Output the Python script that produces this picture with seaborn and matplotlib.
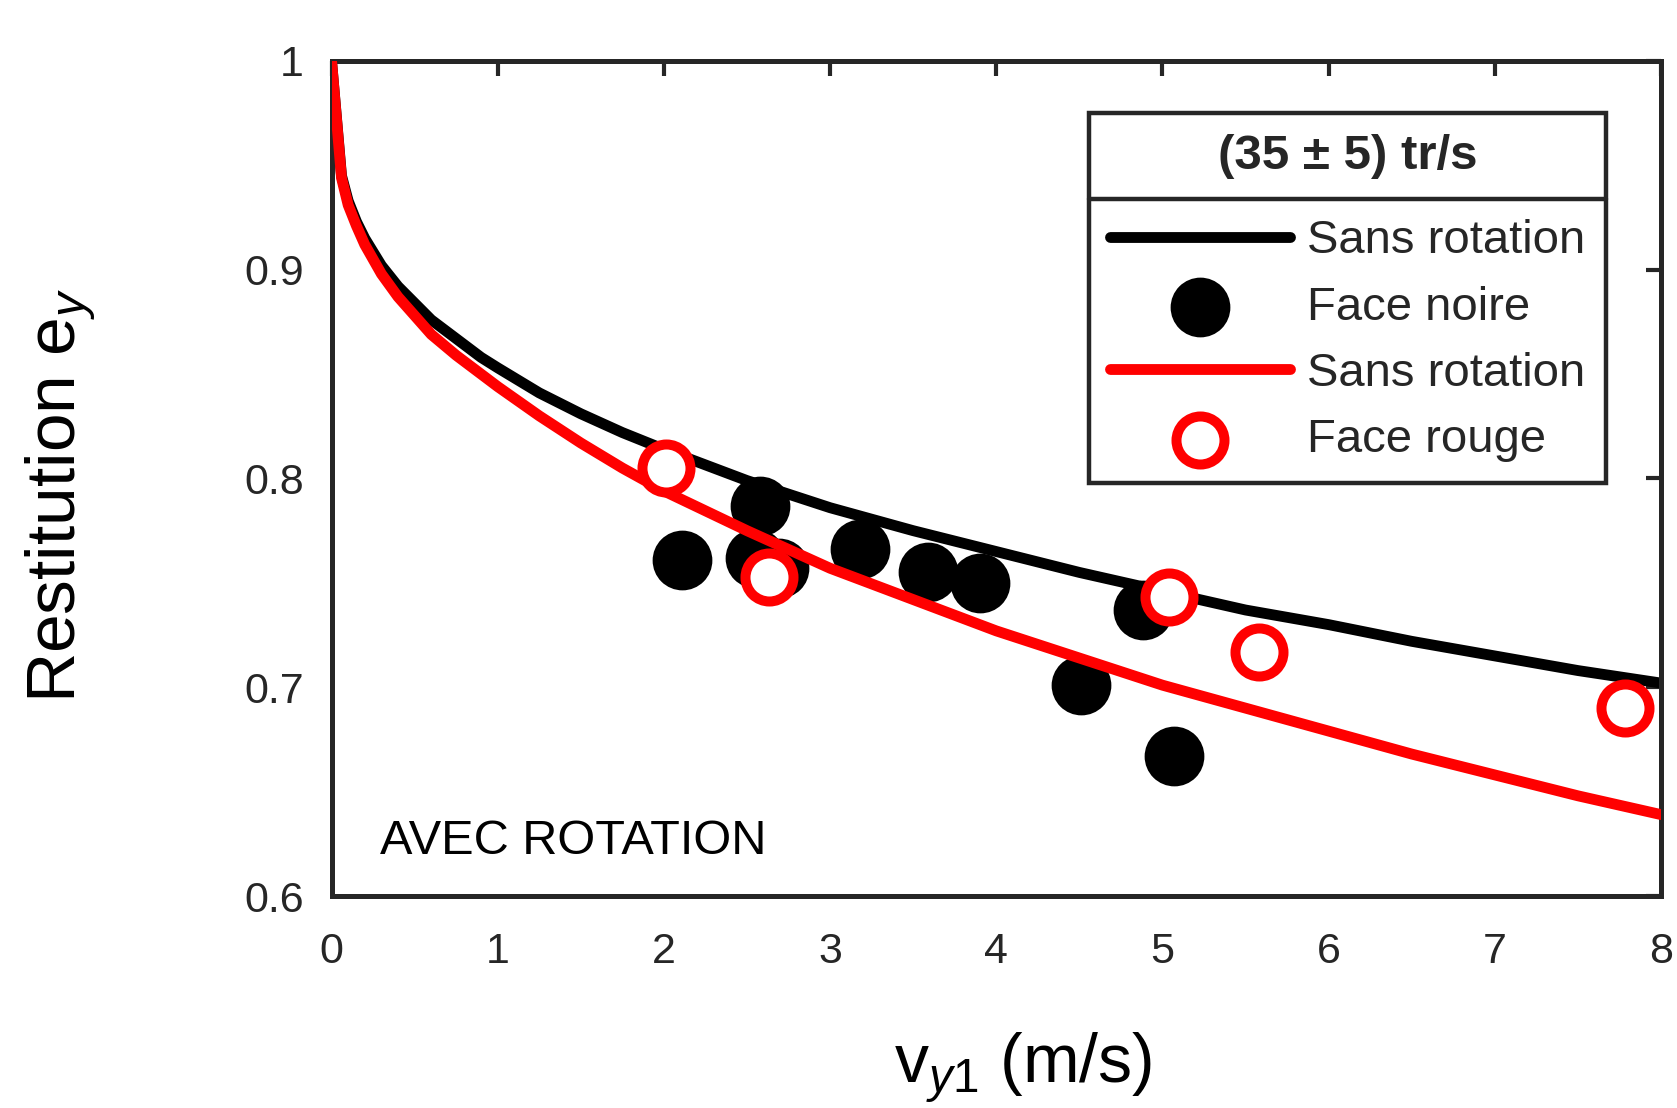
import numpy as np
import pandas as pd
import matplotlib
matplotlib.use('Agg')
import matplotlib.pyplot as plt
from matplotlib.lines import Line2D
import seaborn as sns

# model curves
curve_x = [0, 0.06, 0.1, 0.15, 0.2, 0.3, 0.4, 0.5, 0.6, 0.75, 0.9, 1, 1.25, 1.5, 1.75, 2, 2.5,
           3, 3.5, 4, 4.5, 5, 5.5, 6, 6.5, 7, 7.5, 8]
black_curve = [1.0, 0.945, 0.933, 0.923, 0.915, 0.902, 0.892, 0.884, 0.876, 0.867, 0.858, 0.853,
               0.841, 0.831, 0.822, 0.814, 0.799, 0.786, 0.775, 0.765, 0.755, 0.746, 0.737,
               0.730, 0.722, 0.715, 0.708, 0.702]
red_curve = [1.0, 0.944, 0.931, 0.921, 0.912, 0.898, 0.887, 0.878, 0.869, 0.859, 0.850, 0.844,
             0.830, 0.817, 0.805, 0.794, 0.775, 0.757, 0.742, 0.727, 0.714, 0.701, 0.690,
             0.679, 0.668, 0.658, 0.648, 0.639]

# measured points
noire_x = [2.11, 2.58, 2.55, 2.69, 3.18, 3.59, 3.90, 4.51, 4.88, 5.07]
noire_y = [0.761, 0.787, 0.762, 0.757, 0.766, 0.755, 0.750, 0.701, 0.737, 0.667]
rouge_x = [2.01, 2.63, 5.04, 5.58, 7.78]
rouge_y = [0.805, 0.753, 0.743, 0.717, 0.690]

xticks = [0, 1, 2, 3, 4, 5, 6, 7, 8]
yticks = [0.6, 0.7, 0.8, 0.9, 1.0]
ytick_labels = ['0.6', '0.7', '0.8', '0.9', '1']

sns.set_style('white')
plt.rcParams['font.family'] = ['Liberation Sans', 'DejaVu Sans']
plt.rcParams['mathtext.fontset'] = 'custom'
plt.rcParams['mathtext.rm'] = 'Liberation Sans'
plt.rcParams['mathtext.it'] = 'Liberation Sans:italic'

axcol = '#262626'

fig = plt.figure(figsize=(16.77, 11.08), dpi=100)
ax = fig.add_axes([0.1977, 0.1913, 0.7928, 0.7537])

sns.lineplot(x=curve_x, y=black_curve, color='black', linewidth=7.8, label='Sans rotation', ax=ax,
             zorder=2, solid_joinstyle='round')
sns.scatterplot(x=noire_x, y=noire_y, color='black', s=1850, linewidth=0, label='Face noire', ax=ax, zorder=3)
sns.lineplot(x=curve_x, y=red_curve, color='red', linewidth=7.8, label='Sans rotation', ax=ax,
             zorder=4, solid_joinstyle='round')
sns.scatterplot(x=rouge_x, y=rouge_y, color='white', edgecolor='red', s=1195, linewidth=7.2,
                label='Face rouge', ax=ax, zorder=5)

ax.set_xlim(0, 8)
ax.set_ylim(0.6, 1.0)
ax.set_xticks(xticks)
ax.set_xticklabels([str(t) for t in xticks])
ax.set_yticks(yticks)
ax.set_yticklabels(ytick_labels)
ax.tick_params(direction='in', top=True, right=True, length=11, width=3, color=axcol,
               labelsize=31, labelcolor=axcol)
ax.tick_params(axis='x', pad=26)
ax.tick_params(axis='y', pad=20)
for sp in ax.spines.values():
    sp.set_visible(True)
    sp.set_linewidth(3.6)
    sp.set_color(axcol)

ax.set_xlabel(r'v$_{y1}$ (m/s)', fontsize=49, color='black')
ax.set_ylabel(r'Restitution e$_y$', fontsize=50, color='black')
ax.xaxis.set_label_coords(0.52, -0.16)
ax.yaxis.set_label_coords(-0.176, 0.48)

ax.text(0.29, 0.626, 'AVEC ROTATION', fontsize=35, ha='left', va='center', color='black')

handles, labels = ax.get_legend_handles_labels()
leg = ax.legend(handles, labels, title='(35 ± 5) tr/s', loc='upper right',
                bbox_to_anchor=(0.9587, 0.9377), borderaxespad=0, fontsize=34,
                title_fontproperties={'weight': 'bold', 'size': 35.5},
                frameon=True, fancybox=False, edgecolor=axcol, framealpha=1,
                handlelength=3.8, handletextpad=0.36, labelspacing=0.47, borderpad=0.45)
leg.get_frame().set_linewidth(3.2)
leg._legend_box.sep = 29

# divider between legend title and entries
fig.canvas.draw()
r = fig.canvas.get_renderer()
tb = leg.get_title().get_window_extent(r)
t0 = leg.get_texts()[0].get_window_extent(r)
fb = leg.get_frame().get_window_extent(r)
ysep = (tb.y0 + t0.y1) / 2
inv = fig.transFigure.inverted()
x0, y0 = inv.transform((fb.x0, ysep))
x1, _ = inv.transform((fb.x1, ysep))
fig.add_artist(Line2D([x0, x1], [y0, y0], transform=fig.transFigure, color=axcol, linewidth=3.2))

fig.savefig('out.png', dpi=100)
